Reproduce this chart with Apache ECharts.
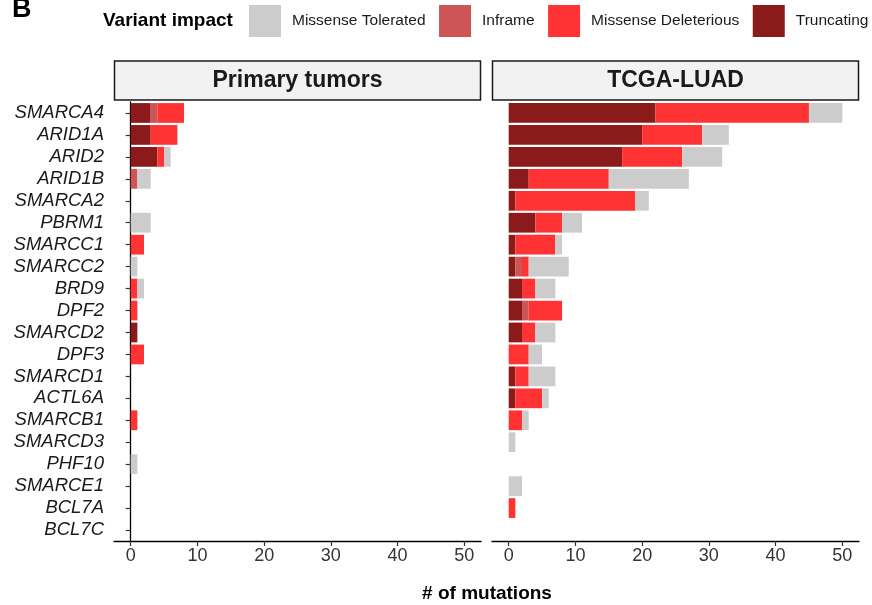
<!DOCTYPE html>
<html>
<head>
<meta charset="utf-8">
<script src="https://cdn.jsdelivr.net/npm/echarts@6/dist/echarts.min.js"></script>
<style>
  html, body { margin: 0; padding: 0; background: #fff; }
  #chart { width: 872px; height: 605px; }
</style>
</head>
<body>
<div id="chart"></div>
<script>
// SWI/SNF complex genes, top to bottom
const genes = ['SMARCA4', 'ARID1A', 'ARID2', 'ARID1B', 'SMARCA2', 'PBRM1', 'SMARCC1', 'SMARCC2',
  'BRD9', 'DPF2', 'SMARCD2', 'DPF3', 'SMARCD1', 'ACTL6A', 'SMARCB1', 'SMARCD3', 'PHF10',
  'SMARCE1', 'BCL7A', 'BCL7C'];

// Primary tumors: mutation counts per variant impact
const primaryTruncating = [3, 3, 4, 0, 0, 0, 0, 0, 0, 0, 1, 0, 0, 0, 0, 0, 0, 0, 0, 0];
const primaryInframe    = [1, 0, 0, 1, 0, 0, 0, 0, 0, 0, 0, 0, 0, 0, 0, 0, 0, 0, 0, 0];
const primaryMisDel     = [4, 4, 1, 0, 0, 0, 2, 0, 1, 1, 0, 2, 0, 0, 1, 0, 0, 0, 0, 0];
const primaryMisTol     = [0, 0, 1, 2, 0, 3, 0, 1, 1, 0, 0, 0, 0, 0, 0, 0, 1, 0, 0, 0];

// TCGA-LUAD: mutation counts per variant impact
const tcgaTruncating = [22, 20, 17, 3, 1, 4, 1, 1, 2, 2, 2, 0, 1, 1, 0, 0, 0, 0, 0, 0];
const tcgaInframe    = [0, 0, 0, 0, 0, 0, 0, 1, 0, 1, 0, 0, 0, 0, 0, 0, 0, 0, 0, 0];
const tcgaMisDel     = [23, 9, 9, 12, 18, 4, 6, 1, 2, 5, 2, 3, 2, 4, 2, 0, 0, 0, 1, 0];
const tcgaMisTol     = [5, 4, 6, 12, 2, 3, 1, 6, 3, 0, 3, 2, 4, 1, 1, 1, 0, 2, 0, 0];

const panelTitles = ['Primary tumors', 'TCGA-LUAD'];
const xTicks = [0, 10, 20, 30, 40, 50];

// Legend order and fill colours
const impactNames = ['Missense Tolerated', 'Inframe', 'Missense Deleterious', 'Truncating'];
const impactColors = {
  'Missense Tolerated': '#cccccc',
  'Inframe': '#cd5555',
  'Missense Deleterious': '#ff3333',
  'Truncating': '#8b1a1a'
};
// stacking order from the axis outwards
const stackOrder = ['Truncating', 'Inframe', 'Missense Deleterious', 'Missense Tolerated'];

const panelData = [
  { 'Truncating': primaryTruncating, 'Inframe': primaryInframe,
    'Missense Deleterious': primaryMisDel, 'Missense Tolerated': primaryMisTol },
  { 'Truncating': tcgaTruncating, 'Inframe': tcgaInframe,
    'Missense Deleterious': tcgaMisDel, 'Missense Tolerated': tcgaMisTol }
];

const FONT = '"Liberation Sans", Arial, Helvetica, sans-serif';
const gridTop = 102, gridH = 439, gridW = 367;
const gridLefts = [114, 492];

const grids = gridLefts.map(l => ({ left: l, top: gridTop, width: gridW, height: gridH }));

const xAxes = gridLefts.map((l, i) => ({
  type: 'value', gridIndex: i, min: -2.5, max: 52.5,
  axisLine: { show: true, lineStyle: { color: '#000', width: 1.3 } },
  axisTick: { show: true, length: 5, customValues: xTicks, lineStyle: { color: '#333', width: 1.2 } },
  axisLabel: { customValues: xTicks, color: '#333', fontSize: 18, fontFamily: FONT, margin: 6 },
  splitLine: { show: false }
}));

const yAxes = gridLefts.map((l, i) => ({
  type: 'category', gridIndex: i, data: genes, inverse: true,
  axisLine: { show: i === 0, lineStyle: { color: '#000', width: 1.3 } },
  axisTick: { show: i === 0, length: 5, interval: 0, alignWithLabel: true, lineStyle: { color: '#333', width: 1.2 } },
  axisLabel: { show: i === 0, interval: 0, hideOverlap: false, color: '#1a1a1a', fontSize: 18.5,
    fontStyle: 'italic', fontFamily: FONT, margin: 10 }
}));

const series = [];
panelData.forEach((pd, i) => {
  stackOrder.forEach(name => {
    series.push({
      name: name, type: 'bar', stack: 'panel' + i,
      xAxisIndex: i, yAxisIndex: i,
      barWidth: '90%',
      itemStyle: { color: impactColors[name] },
      data: pd[name],
      animation: false
    });
  });
});

// Facet strips above each panel
const strips = gridLefts.map((l, i) => ({
  type: 'group',
  children: [
    { type: 'rect', shape: { x: l + 0.5, y: 61, width: gridW - 1, height: 39 },
      style: { fill: '#f2f2f2', stroke: '#1a1a1a', lineWidth: 1.5 } },
    { type: 'text', x: l + gridW / 2, y: 81,
      style: { text: panelTitles[i], fill: '#1a1a1a', font: 'bold 23px ' + FONT,
        textAlign: 'center', textVerticalAlign: 'middle' } }
  ]
}));

const chart = echarts.init(document.getElementById('chart'), null, { renderer: 'canvas' });
chart.setOption({
  backgroundColor: '#fff',
  animation: false,
  grid: grids,
  xAxis: xAxes,
  yAxis: yAxes,
  legend: {
    data: impactNames,
    left: 249, top: 5,
    padding: 0,
    width: 640,
    itemWidth: 32, itemHeight: 32, itemGap: 13.5,
    icon: 'rect',
    selectedMode: false,
    textStyle: { color: '#1a1a1a', fontSize: 15.5, fontFamily: FONT, padding: [0, 0, 0, 6] }
  },
  graphic: [
    { type: 'text', left: 12, top: -4,
      style: { text: 'B', fill: '#000', font: 'bold 27px ' + FONT } },
    { type: 'text', x: 103, y: 21,
      style: { text: 'Variant impact', fill: '#000', font: 'bold 19px ' + FONT, textVerticalAlign: 'middle' } },
    { type: 'text', x: 487, y: 594,
      style: { text: '# of mutations', fill: '#000', font: 'bold 19px ' + FONT,
        textAlign: 'center', textVerticalAlign: 'middle' } }
  ].concat(strips),
  series: series
});
</script>
</body>
</html>
